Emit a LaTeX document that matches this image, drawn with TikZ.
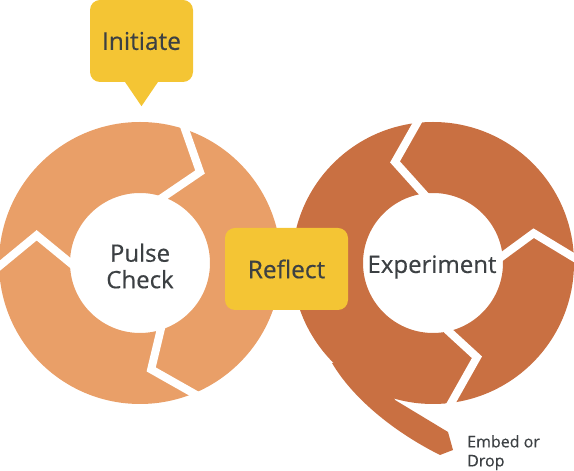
\documentclass[tikz,border=0pt]{standalone}
\usepackage{fontspec}
\setmainfont[FakeBold=0.4]{Open Sans}
\usetikzlibrary{calc}
\definecolor{pulseorange}{HTML}{E99F68}
\definecolor{exprust}{HTML}{C97042}
\definecolor{tagyellow}{HTML}{F4C534}
\definecolor{labelgray}{HTML}{3C4043}
\tikzset{
  gapline/.style={white, line width=8pt, line join=miter},
  tagbox/.style={fill=tagyellow, rounded corners=10pt, minimum width=#1,
    minimum height=82pt, inner sep=0pt, text=labelgray,
    font=\fontsize{24.5}{30}\selectfont},
  ringlabel/.style={text=labelgray, inner sep=0pt, align=center,
    font=\fontsize{24}{26.5}\selectfont}
}
\begin{document}
\begin{tikzpicture}[x=1pt, y=1pt]
  \useasboundingbox (0,0) rectangle (574,471);
  \pgfmathsetmacro{\ro}{141}
  \pgfmathsetmacro{\ri}{70}
  \coordinate (pulse) at (140,208);
  \coordinate (expt) at (433,208);
  % left loop, clockwise
  \fill[pulseorange, even odd rule]
    (pulse) circle[radius=\ro] (pulse) circle[radius=\ri];
  \draw[gapline] ($(pulse)+(78:60)$) -- ($(pulse)+(56.6:109)$) -- ($(pulse)+(74:150)$);
  \draw[gapline] ($(pulse)+(-67:60)$) -- ($(pulse)+(-84:107)$) -- ($(pulse)+(-65:150)$);
  \draw[gapline] ($(pulse)+(188:60)$) -- ($(pulse)+(165:107)$) -- ($(pulse)+(184:150)$);
  % right loop, counter-clockwise, with tail
  \fill[exprust, even odd rule]
    (expt) circle[radius=\ro] (expt) circle[radius=\ri];
  \fill[exprust] (332,108) .. controls (352,74) and (392,40) .. (440,16)
    -- (453,21) -- (448,39) -- (395,71) -- ($(expt)+(240:110)$) -- cycle;
  \draw[gapline] ($(expt)+(91:60)$) -- ($(expt)+(110.6:108)$) -- ($(expt)+(94:150)$);
  \draw[gapline] ($(expt)+(0:60)$) -- ($(expt)+(16.5:105)$) -- ($(expt)+(0:150)$);
  \draw[gapline] ($(expt)+(-84:60)$) -- ($(expt)+(-65:104)$) -- ($(expt)+(-84:146)$);
  \node[ringlabel] (pulsetext) at (140,205) {Pulse\\Check};
  \node[ringlabel] (expttext) at (432,204) {Experiment};
  \node[tagbox=123pt] (reflect) at (286.5,202) {Reflect};
  \node[tagbox=103pt] (initiate) at (141.5,430) {Initiate};
  \fill[tagyellow] ([xshift=-17pt, yshift=1pt]initiate.south)
    -- ([yshift=-24pt]initiate.south) -- ([xshift=17pt, yshift=1pt]initiate.south) -- cycle;
  \node[anchor=north west, align=left, inner sep=0pt, text=labelgray,
    font=\fontsize{16}{19}\selectfont] (embed) at (467,36) {Embed or\\Drop};
\end{tikzpicture}
\end{document}
